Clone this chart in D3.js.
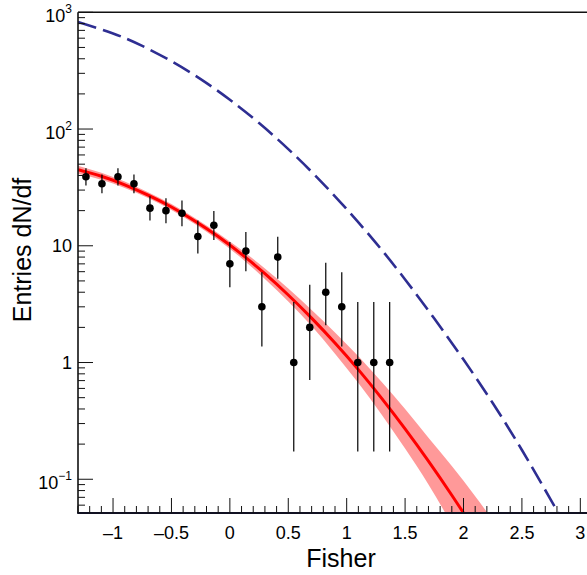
<!DOCTYPE html>
<html>
<head>
<meta charset="utf-8">
<script src="https://cdn.jsdelivr.net/npm/d3@7"></script>
<style>
  html, body { margin: 0; padding: 0; background: #fff; }
  svg { display: block; font-family: "Liberation Sans", Arial, Helvetica, sans-serif; }
</style>
</head>
<body>
<svg id="chart" width="587" height="575"></svg>
<script>
// ---- data ----
const fisherBins = [-1.232,-1.095,-0.958,-0.821,-0.684,-0.547,-0.410,-0.274,-0.137,0.000,
                    0.137,0.274,0.410,0.547,0.684,0.821,0.958,1.095,1.232,1.368];
const entries    = [39,34,39,34,21,20,19,12,15,7,9,3,8,1,2,4,3,1,1,1];
const errLow     = [32.8,28.2,32.8,28.2,16.5,15.6,14.7,8.6,11.2,4.42,6.06,1.37,5.23,0.173,0.708,2.09,1.37,0.173,0.173,0.173];
const errHigh    = [46.2,40.8,46.2,40.8,26.6,25.5,24.4,16.5,19.9,10.8,13.1,5.92,11.95,3.30,4.64,7.16,5.92,3.30,3.30,3.30];

// fitted curve (red) with uncertainty band
const fitX     = [-1.3,-1.1,-0.9,-0.7,-0.5,-0.3,-0.1,0.1,0.3,0.5,0.7,0.9,1.1,1.3,1.5,1.7,1.9,2.1,2.3];
const fitY     = [44.8,39.4,33.3,27.2,21.5,16.3,12.0,8.47,5.77,3.79,2.40,1.47,0.869,0.493,0.270,0.143,0.0730,0.0359,0.0170];
const bandLow  = [41.3,36.7,31.3,25.7,20.3,15.4,11.2,7.82,5.20,3.34,2.05,1.19,0.667,0.357,0.183,0.0904,0.0410,0.0180,0.0076];
const bandHigh = [48.5,42.2,35.5,28.8,22.8,17.3,12.8,9.18,6.40,4.31,2.82,1.81,1.13,0.681,0.400,0.227,0.130,0.0716,0.0381];

// expectation curve (blue dashed)
const expX = [-1.3,-1.0,-0.75,-0.5,-0.25,0,0.25,0.5,0.75,1.0,1.25,1.5,1.75,2.0,2.25,2.5,2.75,3.0];
const expY = [826,659,515,381,268,178,112.5,67.3,38.2,20.6,10.6,5.15,2.38,1.06,0.45,0.178,0.066,0.024];

// axis ticks
const xMajorTicks = [-1,-0.5,0,0.5,1,1.5,2,2.5,3];
const xTickLabels = ["\u20131","\u20130.5","0","0.5","1","1.5","2","2.5","3"];
const yMajorTicks = [0.1,1,10,100,1000];
const yTickBase   = ["10","1","10","10","10"];
const yTickSup    = ["\u22121","","","2","3"];
const xTitle = "Fisher";
const yTitle = "Entries dN/df";

// ---- layout ----
const svg = d3.select("#chart");
const pLeft = 78, pRight = 592, pTop = 12.3, pBottom = 513;
const x = d3.scaleLinear().domain([-1.3, 3.1]).range([pLeft, pRight]);
const y = d3.scaleLog().domain([0.0514, 1000]).range([pBottom, pTop]);

svg.append("defs").append("clipPath").attr("id","plotclip")
  .append("rect").attr("x", pLeft).attr("y", pTop).attr("width", pRight-pLeft).attr("height", pBottom-pTop);

const plot = svg.append("g").attr("clip-path","url(#plotclip)");

// band
const band = d3.area()
  .x((d,i) => x(fitX[i]))
  .y0((d,i) => y(bandLow[i]))
  .y1((d,i) => y(bandHigh[i]))
  .curve(d3.curveNatural);
plot.append("path").datum(fitX).attr("d", band).attr("fill", "#ff9999").attr("stroke","none");

// fit line
const fitLine = d3.line().x((d,i)=>x(fitX[i])).y((d,i)=>y(fitY[i])).curve(d3.curveNatural);
plot.append("path").datum(fitX).attr("d", fitLine).attr("fill","none").attr("stroke","#ff0000").attr("stroke-width",3);

// expectation dashed
const expLine = d3.line().x((d,i)=>x(expX[i])).y((d,i)=>y(expY[i])).curve(d3.curveNatural);
plot.append("path").datum(expX).attr("d", expLine).attr("fill","none")
  .attr("stroke","#2e2e92").attr("stroke-width",2.6).attr("stroke-dasharray","19,7");

// error bars & points
const pts = plot.append("g");
fisherBins.forEach((v,i) => {
  pts.append("line").attr("x1", x(v)).attr("x2", x(v))
    .attr("y1", y(errLow[i])).attr("y2", y(errHigh[i]))
    .attr("stroke","#000").attr("stroke-width",1.2);
});
pts.selectAll("circle").data(entries).enter().append("circle")
  .attr("cx",(d,i)=>x(fisherBins[i])).attr("cy",d=>y(d)).attr("r",3.8).attr("fill","#000");

// ---- axes frame ----
const axisColor = "#111";
svg.append("line").attr("x1", pLeft).attr("x2", 587).attr("y1", pTop).attr("y2", pTop)
  .attr("stroke", axisColor).attr("stroke-width", 1.6);
svg.append("line").attr("x1", pLeft).attr("x2", pLeft).attr("y1", pTop).attr("y2", pBottom)
  .attr("stroke", axisColor).attr("stroke-width", 1.6);
svg.append("line").attr("x1", pLeft-0.8).attr("x2", 587).attr("y1", pBottom).attr("y2", pBottom)
  .attr("stroke", "#111122").attr("stroke-width", 2);

// x ticks
const xAxisG = svg.append("g");
const xMinor = d3.range(-13, 31).map(k => k/10);
xMinor.forEach(v => {
  const isMajor = Math.abs(v*2 - Math.round(v*2)) < 1e-9;
  xAxisG.append("line").attr("x1", x(v)).attr("x2", x(v))
    .attr("y1", pBottom).attr("y2", pBottom - (isMajor ? 15 : 7))
    .attr("stroke", axisColor).attr("stroke-width", 1);
});
xMajorTicks.forEach((v,i) => {
  xAxisG.append("text").attr("x", x(v)).attr("y", pBottom + 26)
    .attr("text-anchor","middle").attr("font-size", 18).attr("fill","#000").text(xTickLabels[i]);
});

// y ticks
const yAxisG = svg.append("g");
[0.01,0.1,1,10,100].forEach(dec => {
  for (let m = 1; m <= 9; m++) {
    const v = dec*m;
    if (v < 0.0514 || v > 1000) continue;
    yAxisG.append("line").attr("x1", pLeft).attr("x2", pLeft + (m===1 ? 15 : 7))
      .attr("y1", y(v)).attr("y2", y(v)).attr("stroke", axisColor).attr("stroke-width", 1);
  }
});
yAxisG.append("line").attr("x1", pLeft).attr("x2", pLeft+15).attr("y1", y(1000)).attr("y2", y(1000))
  .attr("stroke", axisColor).attr("stroke-width", 1);

yMajorTicks.forEach((v,i) => {
  const hasSup = yTickSup[i] !== "";
  const t = yAxisG.append("text").attr("x", 72)
    .attr("y", y(v) + 6.5 + (hasSup ? 3.5 : 0))
    .attr("text-anchor","end").attr("font-size", 18).attr("fill","#000");
  t.append("tspan").text(yTickBase[i]);
  if (hasSup) {
    t.append("tspan").attr("font-size", 12).attr("dy", -9).text(yTickSup[i]);
  }
});

// titles
svg.append("text").attr("x", 341).attr("y", 567).attr("text-anchor","middle")
  .attr("font-size", 25).attr("fill","#000").text(xTitle);
svg.append("text").attr("transform","translate(31,250) rotate(-90)").attr("text-anchor","middle")
  .attr("font-size", 25).attr("fill","#000").text(yTitle);
</script>
</body>
</html>
